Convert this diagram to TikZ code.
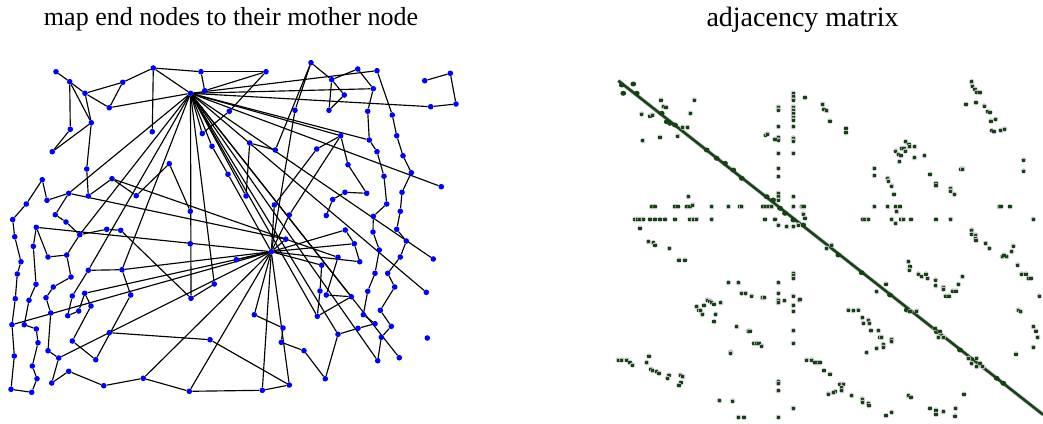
\documentclass[tikz,border=0pt]{standalone}
\usepackage{fontspec}
\setmainfont{Liberation Serif}
\usetikzlibrary{backgrounds}
\definecolor{nodeblue}{RGB}{0,0,255}
\definecolor{matgreen}{RGB}{20,66,20}
\tikzset{
  gn/.style={circle,fill=nodeblue,inner sep=0pt,minimum size=5.6pt},
  edge/.style={black,line width=1.15pt},
  mdot/.style={fill=matgreen},
  mhalo/.style={fill=black!25},
  title/.style={anchor=base,inner sep=0pt}
}
\begin{document}
\begin{tikzpicture}[x=1pt,y=-1pt]
\useasboundingbox (0,0) rectangle (1043,423);

% ---------- titles ----------
\node[title,font=\fontsize{26}{30}\selectfont] (t1) at (231,25) {map end nodes to their mother node};
\node[title,font=\fontsize{28}{32}\selectfont] (t2) at (802.5,26.5) {adjacency matrix};

% ---------- graph: mother nodes ----------
\node[gn] (A) at (190.5,93.3) {};
\node[gn] (B) at (271.3,251.7) {};

% ---------- graph: upper left ----------
\foreach \n/\x/\y in {
 n1/56/71.7, n2/69.7/81.7, n3/85/93.3, n4/122.7/82.3, n5/153.3/68, n6/201/71.7,
 n7/204.7/90.7, n8/109.3/107.7, n9/91.3/122.7, n10/70.3/129.3, n11/52.3/151.7,
 n12/152.3/131.7, n13/229.3/111.3, n14/202.3/133.5, n15/212/146.3, n16/249.7/143,
 n17/169.3/163.7, n18/86.7/169, n19/228/174.3, n20/42.3/179.7, n21/112/178.7,
 n22/68.7/193.3, n23/88.3/196, n24/136.3/195.7, n25/246/196, n26/47/200.3,
 n27/26.3/204, n28/190.3/211.3, n29/55.3/214.7, n30/66/222, n31/12.7/219.5,
 n32/36.3/227.3, n33/106.7/229.3, n34/120.7/230.3}
 \node[gn] (\n) at (\x,\y) {};

% ---------- graph: upper right ----------
\foreach \n/\x/\y in {
 m1/266/71.7, m2/311/62.7, m3/331.7/79.7, m4/357.7/69, m5/377/70.7, m6/344.3/95,
 m7/329/110.3, m8/373.3/88.7, m9/367.7/111.3, m10/424.7/80.7, m11/450.3/73.3,
 m12/456/104, m13/430.7/106.7, m14/392.3/115, m15/295/110.3, m16/340.7/135.7,
 m17/369.3/140, m18/396.7/135.7, m19/275.3/150, m20/316.7/149, m21/377/151.7,
 m22/403/155.7, m23/348/164.7, m24/384/176.3, m25/411.3/172.7, m26/441.3/186.7,
 m27/345/192.3, m28/366.7/193.3, m29/402/192.3, m30/332.7/199.5, m31/274.3/205,
 m32/386.7/204, m33/289.3/215, m34/326.3/215.5, m35/373.3/216.3, m36/400.3/211.3}
 \node[gn] (\n) at (\x,\y) {};

% ---------- graph: lower left ----------
\foreach \n/\x/\y in {
 b1/14.7/236.7, b2/33.3/246.3, b3/21/261.7, b4/48/257, b5/66.7/255, b6/17.3/274,
 b7/71/277, b8/36/284.3, b9/53.3/287, b10/15.3/298.7, b11/29/300.3, b12/46/297.7,
 b13/72.3/296, b14/84.7/293.3, b15/91/306, b16/50.7/313, b17/78.7/311,
 b18/67.7/315.7, b19/12/324.7, b20/24.3/324.7, b21/36.3/329, b22/38/342.7,
 b23/72.3/341, b24/109.3/332.7, b25/210/339.7, b26/48/350.7, b27/58.7/358,
 b28/95.7/359.7, b29/14.3/356, b30/32.3/366, b31/37/378.7, b32/68.7/371.3,
 b33/51.7/383, b34/103.7/385.7, b35/143.3/378.3, b36/189.3/391.3, b37/11/389.3,
 b38/31.7/392.3, b39/79.7/234.7, b40/88.3/270.3, b41/122/269.7, b42/130.7/295,
 b43/190.3/243.7, b44/214.3/284, b45/191/298.3, b46/236.3/259.7}
 \node[gn] (\n) at (\x,\y) {};

% ---------- graph: lower right ----------
\foreach \n/\x/\y in {
 c1/285.7/239.2, c2/345.3/230, c3/354.3/243.7, c4/338/257.3, c5/359.7/261.7,
 c6/321.7/265.2, c7/373/232, c8/396.7/229.3, c9/406.3/241, c10/433.3/259,
 c11/379.3/250, c12/400.3/257, c13/375/273.3, c14/387.7/273.3, c15/394.7/287,
 c16/426.3/292.3, c17/320/291, c18/326.3/295, c19/351.3/296.7, c20/367.7/291.3,
 c21/317.3/316.3, c22/380.3/310.3, c23/254.3/314.7, c24/283/328, c25/363.3/314.7,
 c26/375/323.7, c27/358/328.3, c28/391.3/326.3, c29/338/334.3, c30/381.3/337.3,
 c31/427.3/338, c32/281.3/342.3, c33/304/350.7, c34/377.7/360.7, c35/399.3/357.7,
 c36/325.3/378.7, c37/289.3/385, c38/262.3/390.3}
 \node[gn] (\n) at (\x,\y) {};

% ---------- graph: edges, drawn beneath the nodes ----------
\begin{scope}[on background layer]
\fill[white] (0,0) rectangle (1043,423);
% chains
\foreach \a/\b in {
 n1/n2, n2/n3, n2/n10, n2/n9, n10/n11, n11/n9, n3/n9, n3/n4, n3/n8, n4/n8,
 n4/n5, n5/n12, n5/n6, n6/n7, n6/m1, n7/m1, m1/n13, n13/n14, n9/n18,
 n18/n23, n23/n21, n21/n24, n24/n17, n17/n28, n20/n27, n20/n26, n26/n22,
 n22/n29, n29/n30, n30/b39, n27/n31, n31/b1, n22/c1, n21/c4,
 b1/b3, b3/b6, b6/b10, b10/b19, b19/b29, b29/b37, b37/b38, b38/b31, b31/b30,
 b30/b22, b22/b21, b21/b20, b20/b11, b11/b8, b8/b2, b2/n32, n32/b4, b4/b5,
 b5/b7, b7/b9, b9/b12, b12/b16, b16/b26, b26/b27, b27/b33, b33/b32, b32/b34,
 b34/b35, b35/b36, b36/c38, b5/b39, b39/n33, n33/n34, n34/b45, b40/b41,
 b40/b13, b13/b18, b18/b17, b17/b14, b14/b15, b15/b23, b23/b28, b28/b42,
 b41/b42, b24/b25, b25/c37, b45/b44, c37/c38,
 m2/m3, m3/m6, m3/m7, m6/m7, m3/m4, m4/m8, m8/m9, m9/m17, m17/m21, m21/m24,
 m24/m32, m32/m35, m35/c7, m5/m14, m14/m18, m18/m22, m22/m25, m25/m29,
 m29/m36, m36/c8, m10/m11, m11/m12, m12/m13, m16/m20, m16/m23, m16/m33,
 m23/m28, m28/m27, m27/m30, m30/m34, m20/m31, n16/m19, m19/m2, n16/n25,
 m2/m15, n15/n19,
 c7/c11, c11/c13, c13/c20, c20/c25, c25/c26, c26/c27, c27/c29, c29/c36,
 c36/c33, c33/c32, c32/c24, c24/c23, c8/c9, c9/c12, c12/c14, c14/c15,
 c15/c22, c22/c28, c28/c30, c30/c34, c2/c3, c3/c5, c4/c18, c18/c19, c19/c21,
 c21/c17, c17/c6}
 \draw[edge] (\a) -- (\b);
% end nodes joined to their mother node
\foreach \b in {n5, n8, n22, n14, n15, n25, m5, m8, m13, m16, m17, m26,
 b39, b40, b41, b44, b45, c10, c16, c19, c21, c29, c34, c35}
 \draw[edge] (A) -- (\b);
\foreach \b in {n19, n32, b19, b14, b27, b35, b36, b41, b46, c1, c2, c3, c5,
 c6, c23, c37, c38, m15, m31, m33}
 \draw[edge] (B) -- (\b);
\end{scope}

% ---------- adjacency matrix ----------
\draw[black!30,line width=3.8pt] (618.3,80.7) -- (1043,414.6);
\draw[matgreen,line width=2.4pt] (618.3,80.7) coordinate (d0) -- (1043,414.6) coordinate (d1);
\foreach \x/\y in {621.7/85, 633.3/84, 623.3/93.3, 636.7/93.3, 661.7/113.3,
 666.7/121.7, 670/123.3, 675/125, 706.7/150, 716.7/158.3, 725/163.3,
 733.3/170, 741.7/178.3, 766.7/196.7, 773.3/200, 780/208.3, 785/213.3,
 793.3/220, 803.3/225, 838.3/255, 861.7/272.7, 890/295, 906.7/310,
 936.7/331.7, 960/350, 973.3/360, 996.7/378.3, 1003.3/383.3}
 \fill[matgreen] (\x,\y) ellipse (2.9 and 2.5);

\foreach \x/\y in {
 661/100, 663.3/106.7, 666/107.3, 694.3/100, 641.7/114, 650/116, 652.7/115,
 690.3/113.3, 642.7/140.7, 660/137.3, 677.7/136, 682.7/127.3, 687.7/127.3,
 793.3/93.3, 793.3/96.7, 793.3/100, 805/97.7, 793.3/107, 793.3/110,
 793.3/113.3, 793.3/117, 793.3/120, 793.3/126.7, 793.3/138, 793.3/141,
 793.3/153.3, 778.3/107, 778.3/110, 778.3/126.7, 778.3/137.3, 778.3/140,
 778.3/153.3, 778.3/168.3, 778.3/176.7, 778.3/193.3, 778.3/196.7, 778.3/200,
 765.7/135, 767.5/134, 775/139.3, 793.3/196.7,
 651.7/206.7, 655/206.7, 675/206.7, 678/206.7, 686.7/206.7, 690/206.7,
 711.7/206.7, 728.3/206.7, 740/206.7, 741.7/206.7, 763/206.7, 766/206.7,
 769/206.7, 771.7/206.7, 793.3/206.7, 801.7/206.7,
 635/219.3, 637.5/219.3, 640/219.3, 643.3/219.3, 650/219.3, 655/219.3,
 660/219.3, 665/219.3, 675/219.3, 690/219.3, 693.3/219.3, 696.7/219.3,
 711.7/219.3, 765/219.3, 775/219.3,
 640/228.3, 688.3/196.7, 692.7/205, 778.3/225, 786.7/226.7, 793.3/226.7,
 798.3/225,
 822.7/104.3, 824/109.3, 826.7/110.7, 830/121, 846/128.3, 846/132.7,
 971.7/81.7, 972.3/86, 975/89.3, 976.7/92, 980/92.7, 966/104.3, 976/102.7,
 984.3/106, 987.7/111.7, 990/112.3, 991/121, 995.7/119.3, 991.7/130.7,
 994/131.7, 1000.7/130.3, 1004.7/129,
 905.7/141.7, 909/144.3, 909.3/146.7, 901.7/148.3, 904/148.3, 895.7/151,
 905.3/151, 914.7/146.7, 898.3/154.3, 901/155.7, 914.3/157.7, 924.3/155.7,
 899.3/161.7, 874.3/168.3, 874.3/175.7, 887.7/178.3, 888.3/181, 891.7/186,
 894/194.3, 930/174.3, 936/183.3, 936/185.7, 950.7/188.3, 950.7/191,
 954.3/194.3, 961/169, 962.7/169, 1023.7/160, 1023.7/171,
 802.7/206.7, 804/206.7, 874.3/206.7, 887.7/206.7, 895.7/206.7, 900/206.7,
 999.3/206.7, 1001/206.7, 1010/206.7, 896.7/211.7, 803.3/214, 805/218,
 862.7/219.3, 865/219.3, 868.3/219.3, 891.7/219.3, 901/219.3, 903.3/219.3,
 911/219.3, 936/219.3, 950.7/219.3, 1033.3/219.3, 895.7/223.3,
 971.7/230.7, 975.7/235, 975.7/238.3,
 648.3/241.7, 653.3/242.7, 655/245, 669.3/248.3, 679/260, 685/260,
 793.3/273.3, 793.3/275.7, 793.3/278.3, 728.3/282.7, 738.3/282.7, 778.3/282.7,
 741.7/293.3, 745.7/293.3, 751.7/296, 762.3/297.7, 764.3/297.7,
 778.3/293.3, 778.3/300, 778.3/302.7, 784.3/300.7, 793.3/296, 799.3/300,
 793.3/305.3, 793.3/311.3,
 696.7/306.7, 699/310, 700.7/310.7, 704/305.3, 707.3/300, 710/301, 711.7/302.7,
 714/304, 720.7/302.7, 702.3/314.3, 715.7/314.3, 714/321.7,
 736.7/326.7, 748.3/331, 750/331, 793.3/330.7, 793.3/343.3,
 754/343.3, 756.7/343.3, 759/343.3, 761.7/346, 730.7/352, 730.7/353.3,
 806.7/360, 811.7/360, 816/362.7, 818.3/362.7,
 618.3/360, 621.7/360, 626.7/360, 630/362.7, 632.3/365,
 649/356, 646.7/362.7, 651/369.3, 652.7/370.7, 656.7/371.7, 659/373.3,
 669/375, 667.7/378.3, 680.3/375, 682.7/376.7, 681/382.7, 679/385.3,
 778.3/381.7, 778.3/383.5, 778.3/390.7, 719.3/400.7, 732.7/401, 793.3/408.3,
 738.3/417.3, 744/417.3, 778.3/417.3,
 831.7/245, 826.7/248.3, 971.7/230, 971.7/234, 976/240.5,
 985.7/243.3, 989.3/248.3, 1013.3/246, 1011.7/251.7, 1006.7/256.7,
 1002.3/256.7, 1004/255, 1017.7/265, 1021.7/274, 1026/274, 1028.3/278.3,
 1031/278.3, 908.3/261.7, 910/266.7, 909.3/270, 918.3/274, 921.7/276.7,
 926/274, 927.7/278.3, 935.7/280, 935.7/285.7, 962.3/276.7, 958.3/284.3,
 943.3/287.3, 943.3/289.3, 952.7/291, 956/291, 945.7/296, 949/296, 886/284,
 876.7/291.7, 800/299.3, 1039.3/296, 848.3/310, 853.3/310.7, 858.3/310,
 910/311.7, 916.7/311, 862.3/317.7, 868.3/320, 869.3/323.3, 863.3/323.3,
 871/330.7, 878.3/330.7, 880/337.3, 881.7/337.3, 891.7/339.3, 891.7/341.7,
 883.3/344.3, 883.3/347.3, 876.7/348.3, 866.7/352.7, 1018.3/310, 1020.7/311.7,
 1033.3/326.7, 1036/331, 1037.7/337.3, 1033.3/347.3, 1016/354,
 935/328.3, 940/331.7, 943.3/337.3, 938.3/337.3, 968.3/358.3, 971.7/363.3,
 976.7/358.3, 980/363.3, 982.7/366.7, 976.7/366.7, 815/362.7, 820/362.7,
 824/370.7, 830/374, 840/384, 843.3/384, 841.7/387.3, 841.7/390.7, 835/391.7,
 828.3/394, 833.3/392.7, 851.7/395.7, 862.3/399, 862.7/402.3, 868.3/403.3,
 869/405.7, 908.3/395.7, 911/397.3, 964/394.3, 886/415.7, 891.7/412.3,
 930/408.3, 936/410, 936/414.3, 943.3/411.7, 955.7/408.3, 955/416}
{
 \fill[mhalo] (\x,\y) circle (2.7);
 \fill[mdot] (\x-1.6,\y-1.5) rectangle (\x+1.6,\y+1.5);
}
\end{tikzpicture}
\end{document}
